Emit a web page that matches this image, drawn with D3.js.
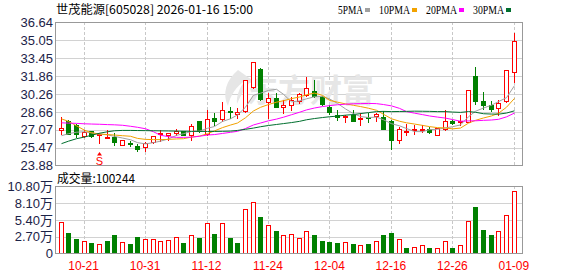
<!DOCTYPE html>
<meta charset="utf-8">
<title>世茂能源 日K</title>
<script src="https://cdn.jsdelivr.net/npm/d3@7"></script>
<style>
  body { margin: 0; background: #fff; }
  svg { display: block; }
</style>
<body>
<div id="chart"></div>
<script>
// trading days shown (2025-10-16 .. 2026-01-09)
var dates = ["10-16","10-17","10-20","10-21","10-22","10-23","10-24","10-27","10-28","10-29",
  "10-30","10-31","11-03","11-04","11-05","11-06","11-07","11-10","11-11","11-12",
  "11-13","11-14","11-17","11-18","11-19","11-20","11-21","11-24","11-25","11-26",
  "11-27","11-28","12-01","12-02","12-03","12-04","12-05","12-08","12-09","12-10",
  "12-11","12-12","12-15","12-16","12-17","12-18","12-19","12-22","12-23","12-24",
  "12-25","12-26","12-29","12-30","12-31","01-05","01-06","01-07","01-08","01-09"];

var open = [27.03,27.81,27.51,26.48,26.92,26.60,26.33,26.39,25.74,25.89,
  25.65,25.50,25.94,26.65,26.63,26.78,26.92,26.63,27.87,26.72,
  28.11,28.02,28.75,28.46,28.75,30.88,32.48,29.52,29.88,29.13,
  29.29,29.67,30.17,30.50,30.02,29.13,28.37,28.18,28.37,28.03,
  28.25,28.34,28.18,27.81,26.14,26.92,27.01,27.04,27.10,26.60,
  27.13,27.87,27.78,27.78,31.85,29.64,29.26,29.05,29.61,32.21];
var high = [28.25,27.96,27.60,27.07,26.98,26.80,27.07,26.78,26.18,26.03,
  25.77,25.94,26.54,27.01,26.80,27.16,26.98,27.58,27.87,28.84,
  28.55,29.58,29.13,29.05,31.52,33.12,32.59,30.32,30.32,29.73,
  30.02,30.38,31.77,31.50,30.08,29.29,28.84,28.36,28.84,28.60,
  28.55,28.53,28.75,27.91,27.36,27.60,27.51,27.47,27.34,27.25,
  28.82,27.98,28.37,30.62,32.71,30.44,29.61,29.70,32.39,35.66];
var low = [26.72,26.67,26.42,26.41,26.39,25.89,26.32,25.74,25.68,25.59,
  25.15,25.15,25.89,26.03,26.12,26.63,26.56,26.18,26.87,26.63,
  27.45,27.81,28.11,28.11,28.66,30.84,29.73,28.11,29.11,28.55,
  28.84,29.46,30.08,30.02,29.29,28.46,27.96,27.72,27.87,27.51,
  27.72,27.82,27.14,25.34,25.89,26.63,26.67,26.87,26.74,26.58,
  27.04,27.60,27.49,27.73,29.40,28.96,28.78,28.43,29.59,31.32];
var close = [27.20,26.69,26.67,26.83,26.51,26.67,26.41,25.94,26.12,25.77,
  25.36,25.86,26.48,26.78,26.78,26.98,26.63,27.42,26.92,28.04,
  27.81,28.84,28.64,28.62,31.50,33.10,29.79,29.88,29.13,29.29,
  29.73,30.23,30.76,30.06,29.39,28.62,28.25,28.34,27.89,28.16,
  28.14,28.44,27.16,26.14,27.16,26.98,27.11,27.11,26.89,27.20,
  27.87,27.63,27.87,30.59,29.64,29.31,28.90,29.46,32.36,35.02];

// volume, in 万手
var volume = [5.03,3.33,2.33,2.01,1.75,1.54,2.06,2.96,1.85,1.59,
  2.65,2.33,2.33,2.01,2.17,2.65,1.75,2.96,2.54,4.87,
  3.18,4.87,2.54,1.75,7.10,8.37,5.83,4.55,3.65,2.96,
  3.12,2.49,3.60,3.02,2.06,1.91,1.75,1.85,1.59,1.38,
  1.59,2.06,3.02,3.33,2.33,0.95,1.06,1.38,0.95,0.90,
  2.06,0.95,1.38,5.19,7.46,3.81,3.02,3.60,6.19,10.02];
var lastVolume = 100244;

// moving averages as drawn
var ma5 = [26.54,26.72,26.85,26.89,26.79,26.68,26.62,26.48,26.33,26.18,
  25.92,25.81,25.92,26.05,26.25,26.57,26.72,26.92,26.95,27.20,
  27.36,27.81,28.05,28.39,29.08,30.15,30.33,30.58,30.68,30.23,
  29.56,29.65,29.83,30.01,30.04,29.82,29.42,28.93,28.50,28.25,
  28.16,28.20,27.96,27.61,27.42,27.18,26.91,26.90,27.08,27.11,
  27.24,27.34,27.50,28.23,28.72,29.01,29.26,29.58,29.93,31.01];
var ma10 = [28.04,27.82,27.42,27.03,26.80,26.69,26.64,26.60,26.54,26.49,
  26.30,26.21,26.19,26.19,26.21,26.25,26.27,26.42,26.50,26.72,
  26.97,27.26,27.49,27.67,28.14,28.75,29.07,29.32,29.53,29.66,
  29.85,29.99,30.20,30.34,30.14,29.69,29.53,29.38,29.25,29.14,
  28.99,28.81,28.45,28.05,27.83,27.69,27.58,27.46,27.35,27.26,
  27.23,27.15,27.22,27.66,27.91,28.12,28.30,28.54,29.08,29.87];
var ma20 = [27.69,27.66,27.64,27.60,27.58,27.56,27.53,27.51,27.47,27.38,
  27.29,27.16,26.89,26.58,26.45,26.39,26.39,26.41,26.49,26.60,
  26.64,26.74,26.84,26.93,27.18,27.50,27.67,27.87,28.02,28.19,
  28.41,28.63,28.84,29.01,29.14,29.22,29.30,29.35,29.39,29.40,
  29.42,29.40,29.32,29.20,28.98,28.69,28.55,28.42,28.30,28.20,
  28.11,27.98,27.83,27.86,27.87,27.91,27.94,28.00,28.22,28.56];
var ma30 = [25.83,26.05,26.27,26.42,26.58,26.76,26.89,26.98,27.01,27.01,
  27.00,26.99,26.98,26.97,26.96,26.95,26.94,26.93,26.92,26.92,
  26.92,26.93,26.95,27.01,27.11,27.22,27.34,27.45,27.54,27.62,
  27.71,27.82,27.96,28.07,28.16,28.23,28.29,28.37,28.43,28.51,
  28.60,28.69,28.71,28.69,28.70,28.71,28.73,28.72,28.71,28.69,
  28.69,28.65,28.62,28.69,28.63,28.50,28.47,28.46,28.56,28.76];

var priceTicks = [23.88,25.47,27.07,28.66,30.26,31.86,33.45,35.05,36.64];
var volTicks = [0,2.70,5.40,8.10,10.80];
var tickDates = ["10-21","10-31","11-12","11-24","12-04","12-16","12-26","01-09"];
var marks = [{date: "10-23", label: "S"}];

var RED = "#ff0000", GREEN = "#008000", GRID = "#d2d2d2", FRAME = "#999";

var svg = d3.select("#chart").append("svg")
    .attr("width", 578).attr("height", 276)
    .style("font-family", "'Liberation Sans', Arial, sans-serif");

var x = d3.scaleBand().domain(dates).range([56.7, 517.7]).padding(0);
function cx(d) { return Math.round(x(d) + x.bandwidth() / 2); }

var y = d3.scaleLinear().domain([23.88, 36.64]).range([165.5, 22.5]);
var yv = d3.scaleLinear().domain([0, 10.8]).range([253.5, 186.5]);

// ---- grids ----
var grid = svg.append("g");
grid.selectAll(".hp").data(priceTicks.slice(1, -1)).enter().append("line")
    .attr("x1", 55).attr("x2", 522)
    .attr("y1", function(d) { return Math.round(y(d)) + 0.5; })
    .attr("y2", function(d) { return Math.round(y(d)) + 0.5; })
    .attr("stroke", GRID);
grid.selectAll(".hv").data(volTicks.slice(1, -1)).enter().append("line")
    .attr("x1", 55).attr("x2", 522)
    .attr("y1", function(d) { return Math.round(yv(d)) + 0.5; })
    .attr("y2", function(d) { return Math.round(yv(d)) + 0.5; })
    .attr("stroke", GRID);
[[22, 166], [186, 254]].forEach(function(r) {
  grid.selectAll(null).data(tickDates).enter().append("line")
      .attr("x1", function(d) { return cx(d) + 0.5; })
      .attr("x2", function(d) { return cx(d) + 0.5; })
      .attr("y1", r[0]).attr("y2", r[1])
      .attr("stroke", "#c8c8c8").attr("stroke-dasharray", "3,2");
});

// watermark: logo swoosh + name
var wm = svg.append("g").attr("fill", "#e6e6e6");
wm.append("path")
    .attr("d", "M238,70 C226,80 222,94 228,106 C230,96 236,86 246,80 C240,86 236,96 237,104 C242,92 248,84 252,80 Z");
wm.append("text")
    .attr("x", 246).attr("y", 102)
    .style("font-family", "'Noto Sans CJK SC', sans-serif")
    .style("font-size", "32px").style("font-weight", "bold")
    .text("东方财富");

// ---- candles ----
var candles = svg.append("g").selectAll("g").data(dates).enter().append("g");
function isUp(i) {
  if (close[i] !== open[i]) return close[i] > open[i];
  return i === 0 || close[i] >= close[i - 1];
}
candles.each(function(d, i) {
  var g = d3.select(this), c = cx(d), up = isUp(i);
  var col = up ? RED : GREEN;
  g.append("line")
      .attr("x1", c + 0.5).attr("x2", c + 0.5)
      .attr("y1", Math.round(y(high[i]))).attr("y2", Math.round(y(low[i])) + 1)
      .attr("stroke", col);
  var top = Math.round(y(Math.max(open[i], close[i])));
  var bot = Math.round(y(Math.min(open[i], close[i])));
  if (up) {
    g.append("rect")
        .attr("x", c - 1.5).attr("y", top + 0.5)
        .attr("width", 4).attr("height", Math.max(bot - top, 1))
        .attr("fill", "#fff").attr("stroke", col);
  } else {
    g.append("rect")
        .attr("x", c - 2).attr("y", top)
        .attr("width", 5).attr("height", Math.max(bot - top, 1) + 1)
        .attr("fill", col);
  }
});

// ---- moving averages ----
var maSeries = [
  {name: "5PMA", values: ma5, color: "#a0a0a0"},
  {name: "10PMA", values: ma10, color: "#f2a200"},
  {name: "20PMA", values: ma20, color: "#ff00ff"},
  {name: "30PMA", values: ma30, color: "#006f2e"}
];
var line = d3.line()
    .x(function(d, i) { return cx(dates[i]) + 0.5; })
    .y(function(d) { return y(d); });
svg.append("g").selectAll("path").data(maSeries).enter().append("path")
    .attr("d", function(s) { return line(s.values); })
    .attr("fill", "none")
    .attr("stroke", function(s) { return s.color; })
    .attr("stroke-width", 1);

// buy/sell marks
marks.forEach(function(m) {
  var i = dates.indexOf(m.date), c = cx(m.date) + 0.5, yl = y(low[i]);
  svg.append("path")
      .attr("d", "M" + c + "," + (yl + 9) + "L" + (c - 2.5) + "," + (yl + 12.5) + "L" + (c + 2.5) + "," + (yl + 12.5) + "Z")
      .attr("fill", RED);
  svg.append("text")
      .attr("x", c).attr("y", yl + 22)
      .attr("text-anchor", "middle")
      .attr("fill", RED)
      .style("font-size", "11px")
      .text(m.label);
});

// ---- volume ----
svg.append("g").selectAll("g").data(dates).enter().append("g").each(function(d, i) {
  var g = d3.select(this), c = cx(d);
  var red = i === 0 ? close[i] >= open[i] : close[i] >= close[i - 1];
  var t = Math.round(yv(volume[i]));
  if (red) {
    g.append("rect")
        .attr("x", c - 1.5).attr("y", t + 0.5)
        .attr("width", 4).attr("height", 253.5 - t - 0.5)
        .attr("fill", "#fff").attr("stroke", RED);
  } else {
    g.append("rect")
        .attr("x", c - 2).attr("y", t)
        .attr("width", 5).attr("height", 254 - t)
        .attr("fill", GREEN);
  }
});

// ---- frames ----
svg.append("rect").attr("x", 55.5).attr("y", 22.5).attr("width", 467).attr("height", 143)
    .attr("fill", "none").attr("stroke", FRAME);
svg.append("rect").attr("x", 55.5).attr("y", 186.5).attr("width", 467).attr("height", 67)
    .attr("fill", "none").attr("stroke", FRAME);

// ---- axes ----
var labelColor = "#1c2348";
var ax = svg.append("g").attr("transform", "translate(54,0)")
    .call(d3.axisLeft(y).tickValues(priceTicks).tickSize(0).tickPadding(1)
      .tickFormat(d3.format(".2f")));
var axv = svg.append("g").attr("transform", "translate(54,0)")
    .call(d3.axisLeft(yv).tickValues(volTicks).tickSize(0).tickPadding(1)
      .tickFormat(function(d) { return d === 0 ? "0" : d.toFixed(2) + "万"; }));
[ax, axv].forEach(function(a) {
  a.select(".domain").remove();
  a.selectAll("text").attr("fill", labelColor)
    .style("font-size", "13px")
    .style("font-family", "'Liberation Sans', 'Noto Sans CJK SC', sans-serif");
});
var axx = svg.append("g").attr("transform", "translate(0,254)")
    .call(d3.axisBottom(x).tickValues(tickDates).tickSize(0).tickPadding(7));
axx.select(".domain").remove();
axx.selectAll("text").attr("fill", RED)
    .style("font-size", "12px")
    .style("font-family", "'Liberation Sans', sans-serif");

// ---- title, legend, volume label ----
svg.append("text")
    .attr("x", 56).attr("y", 13.5)
    .attr("fill", "#000")
    .attr("textLength", 197).attr("lengthAdjust", "spacingAndGlyphs")
    .style("font-family", "'Noto Sans CJK SC', sans-serif")
    .style("font-size", "12px")
    .text("世茂能源[605028] 2026-01-16 15:00");

var lx = 338;
maSeries.forEach(function(s) {
  var w = s.name.length * 6 + 1;
  svg.append("text")
      .attr("x", lx).attr("y", 13.5)
      .attr("fill", "#000")
      .attr("textLength", w).attr("lengthAdjust", "spacingAndGlyphs")
      .style("font-family", "'Liberation Serif', serif")
      .style("font-size", "13px")
      .text(s.name);
  svg.append("rect")
      .attr("x", lx + w + 2).attr("y", 8)
      .attr("width", 5).attr("height", 4)
      .attr("fill", s.color);
  lx += w + 2 + 5 + 9;
});

svg.append("text")
    .attr("x", 57).attr("y", 182.5)
    .attr("fill", "#000")
    .attr("textLength", 78).attr("lengthAdjust", "spacingAndGlyphs")
    .style("font-family", "'Noto Sans CJK SC', sans-serif")
    .style("font-size", "12px")
    .text("成交量:" + lastVolume);
</script>
</body>
